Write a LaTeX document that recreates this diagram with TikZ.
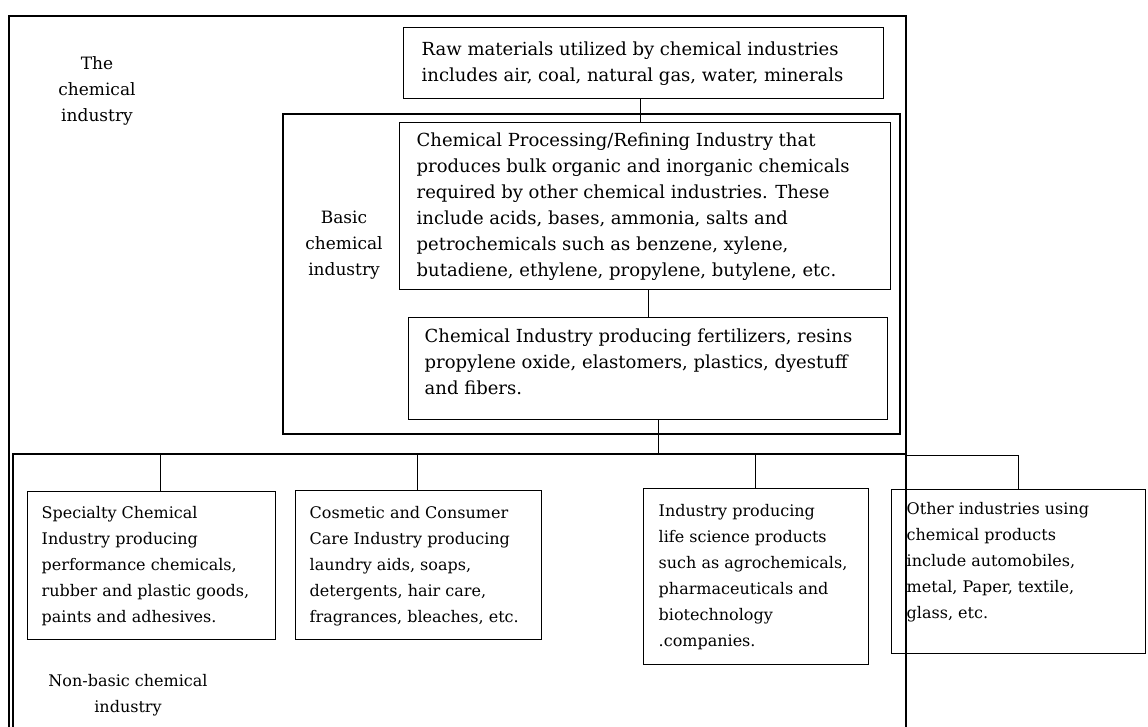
\documentclass[tikz,border=0pt]{standalone}
\usepackage{fontspec}
\setmainfont{DejaVu Serif}
\usetikzlibrary{calc}
\newcommand{\topfont}{\fontsize{18pt}{26pt}\selectfont}
\newcommand{\lowfont}{\fontsize{16pt}{26pt}\selectfont}
\newcommand{\capfont}{\fontsize{17pt}{26pt}\selectfont}
\newcommand{\linesleft}[2]{\makebox[#1][l]{\begin{tabular}{@{}l@{}}#2\end{tabular}}}
\begin{document}
\begin{tikzpicture}[x=1pt,y=-1pt,
  region/.style={draw, line width=2.2pt, inner sep=0pt, anchor=north west},
  infobox/.style={draw, line width=1.4pt, anchor=north west, inner ysep=0pt},
  caption/.style={align=center, font=\capfont, inner sep=0pt},
  link/.style={line width=0.9pt}]
\useasboundingbox (0,0) rectangle (1148,726);
\clip (0,0) rectangle (1148,726);
% regions
\node[region, minimum width=897pt, minimum height=760pt] (outer) at (8,15) {};
\node[region, line width=2pt, minimum width=617pt, minimum height=320pt] (basic) at (282,113) {};
\node[region, minimum width=893pt, minimum height=760pt] (nonbasic) at (12,453) {};
% boxes
\node[infobox, font=\topfont, minimum width=480pt, minimum height=71pt, inner xsep=18pt] (raw) at (403,27)
  {\linesleft{444pt}{Raw materials utilized by chemical industries\\includes air, coal, natural gas, water, minerals}};
\node[infobox, font=\topfont, minimum width=491pt, minimum height=167pt, inner xsep=17pt] (proc) at (399,122)
  {\linesleft{457pt}{Chemical Processing/Refining Industry that\\produces bulk organic and inorganic chemicals\\required by other chemical industries. These\\include acids, bases, ammonia, salts and\\petrochemicals such as benzene, xylene,\\butadiene, ethylene, propylene, butylene, etc.}};
\node[infobox, font=\topfont, minimum width=479pt, minimum height=102pt, inner xsep=16pt] (fert) at (408,317)
  {\linesleft{447pt}{Chemical Industry producing fertilizers, resins\\propylene oxide, elastomers, plastics, dyestuff\\and fibers.\\[10pt]}};
\node[infobox, font=\lowfont, minimum width=248pt, minimum height=148pt, inner xsep=14pt] (spec) at (27,491)
  {\linesleft{220pt}{Specialty Chemical\\Industry producing\\performance chemicals,\\rubber and plastic goods,\\paints and adhesives.}};
\node[infobox, font=\lowfont, minimum width=246pt, minimum height=149pt, inner xsep=14pt] (cosm) at (295,490)
  {\linesleft{218pt}{Cosmetic and Consumer\\Care Industry producing\\laundry aids, soaps,\\detergents, hair care,\\fragrances, bleaches, etc.}};
\node[infobox, font=\lowfont, minimum width=225pt, minimum height=176pt, inner xsep=15pt] (life) at (643,488)
  {\linesleft{195pt}{Industry producing\\life science products\\such as agrochemicals,\\pharmaceuticals and\\biotechnology\\.companies.}};
\node[infobox, font=\lowfont, minimum width=254pt, minimum height=164pt, inner xsep=15pt] (other) at (891,489)
  {\linesleft{224pt}{Other industries using\\chemical products\\include automobiles,\\metal, Paper, textile,\\glass, etc.\\[20pt]}};
% captions
\node[caption] (chemlbl) at (97,91) {The\\chemical\\industry};
\node[caption] (basiclbl) at (344,245) {Basic\\chemical\\industry};
\node[caption, font=\lowfont] (nblbl) at (128,695) {Non-basic chemical\\industry};
% connectors
\coordinate (c1) at ($(raw.south)+(-3,0)$);
\draw[link] (c1) -- (c1 |- proc.north);
\coordinate (c2) at ($(proc.south)+(3,0)$);
\draw[link] (c2) -- (c2 |- fert.north);
\coordinate (c3) at ($(fert.south)+(10,0)$);
\draw[link] (c3) -- (c3 |- nonbasic.north);
\coordinate (c4) at ($(spec.north)+(8.5,0)$);
\draw[link] (c4 |- nonbasic.north) -- (c4);
\coordinate (c5) at ($(cosm.north)+(-1.5,0)$);
\draw[link] (c5 |- nonbasic.north) -- (c5);
\coordinate (c6) at ($(life.north)+(-1,0)$);
\draw[link] (c6 |- nonbasic.north) -- (c6);
\draw[link] ([yshift=-2pt]nonbasic.north east) -| (other.north);
\end{tikzpicture}
\end{document}
